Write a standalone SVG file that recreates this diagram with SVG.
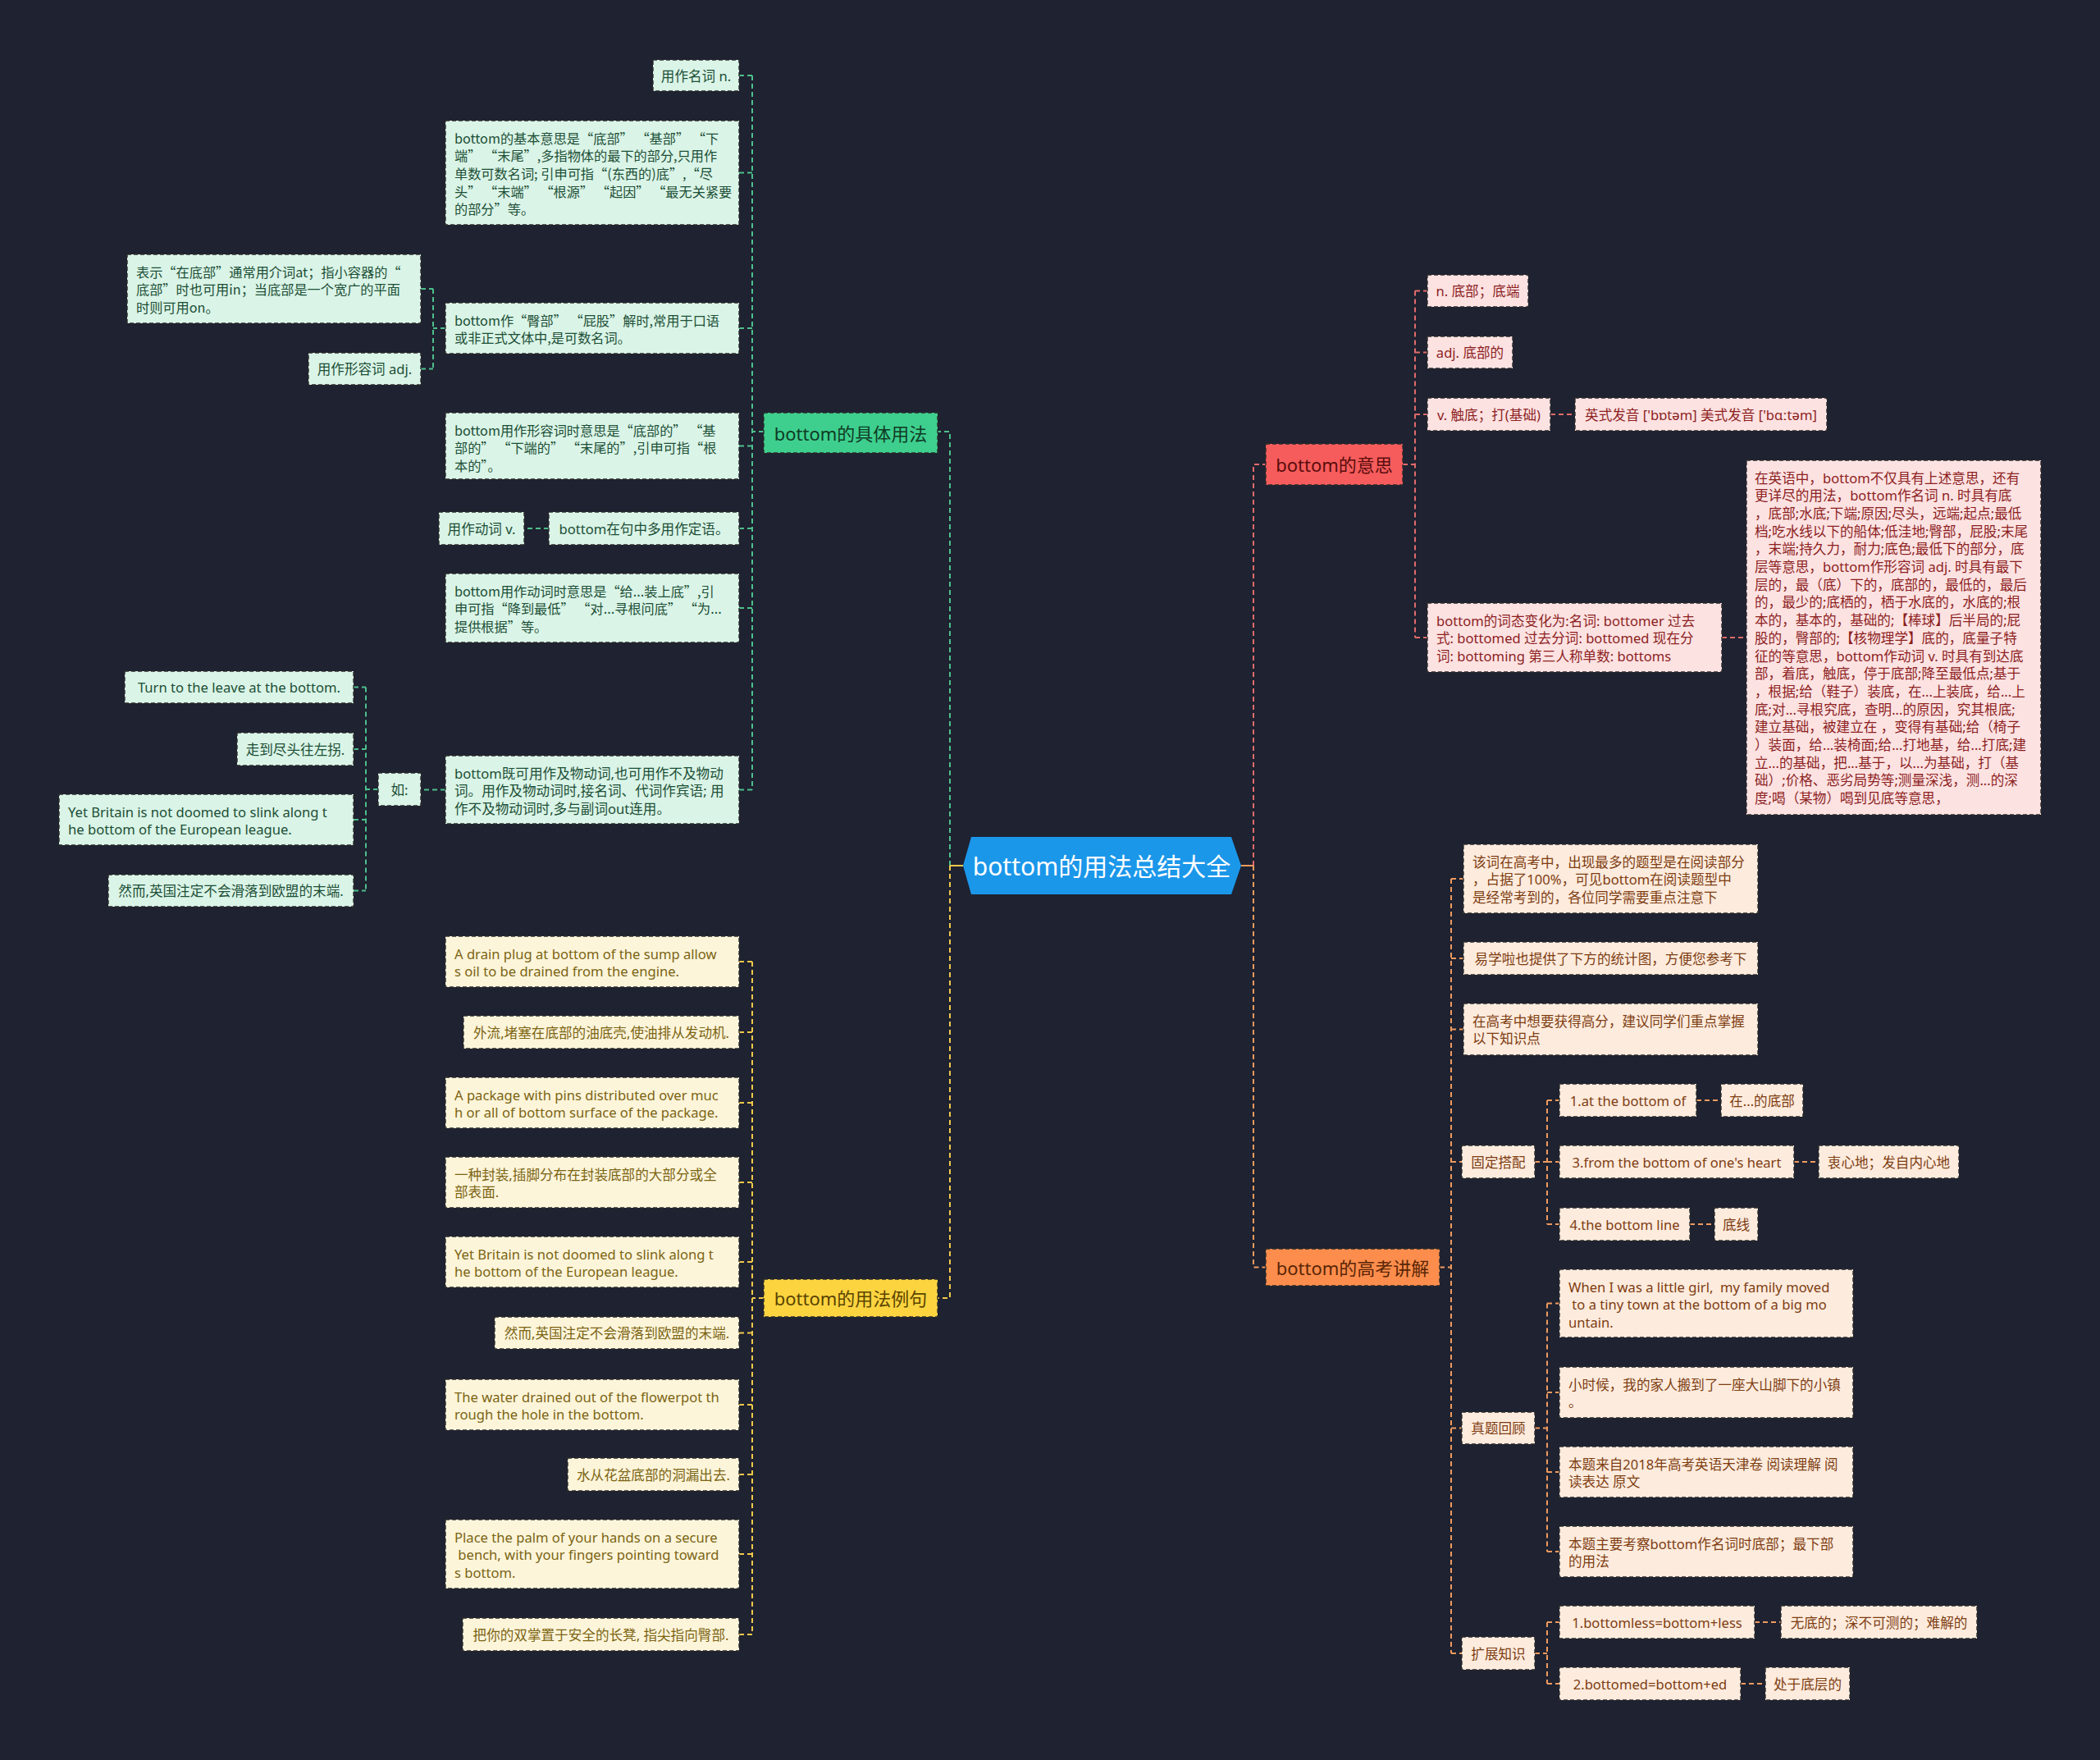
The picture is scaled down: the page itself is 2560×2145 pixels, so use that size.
<svg xmlns="http://www.w3.org/2000/svg" width="2560" height="2145" viewBox="0 0 2560 2145">
<style>
text{font-family:"Noto Sans","Noto Sans CJK SC",sans-serif;font-size:16.6px;dominant-baseline:central}
.q{font-family:"Noto Sans CJK SC","Noto Sans",sans-serif;font-size:16.2px}
.c{text-anchor:middle}
.box{stroke:#2b2b2b;stroke-width:1.4;stroke-dasharray:5 3}
.lg{fill:#daf4e7}.tg{fill:#1c4f36}
.ly{fill:#fdf5da}.ty{fill:#7b6413}
.lr{fill:#fde2e2}.tr{fill:#8c1f1f}
.lo{fill:#fdebdd}.to{fill:#7d3d12}
.cn{fill:none;stroke-width:2;stroke-dasharray:6 4}
.cg{stroke:#4cc08c}.cy{stroke:#f0c94a}.cr{stroke:#e26b6b}.co{stroke:#ef9a5e}
.big{font-size:22px}
</style>
<rect x="0" y="0" width="2560" height="2145" fill="#1f2230"/>
<g id="connectors">
<path class="cn cg" d="M1158,1055 V526 H1143"/>
<path class="cn cy" d="M1158,1055 V1582 H1143"/>
<path d="M1174,1055 H1158" stroke="#f0c94a" stroke-width="2"/>
<path class="cn cr" d="M1528,1055 V566 H1543"/>
<path class="cn co" d="M1528,1055 V1544.5 H1543"/>
<path d="M1513,1055 H1528" stroke="#ef9a5e" stroke-width="2"/>
<path class="cn cg" d="M931,526 H917 M917,92 V962.5 M901,92 H917 M901,210.5 H917 M901,400 H917 M901,543.5 H917 M901,644 H917 M901,741 H917 M901,962.5 H917"/>
<path class="cn cg" d="M543,400 H528 M528,352 V449.5 M513,352 H528 M513,449.5 H528"/>
<path class="cn cg" d="M669,644 H639"/>
<path class="cn cg" d="M543,962.5 H513"/>
<path class="cn cg" d="M461,962 H446 M446,837.5 V1085.5 M431,837.5 H446 M431,913 H446 M431,999 H446 M431,1085.5 H446"/>
<path class="cn cy" d="M931,1582 H917 M917,1172 V1992 M901,1172 H917 M901,1258 H917 M901,1344 H917 M901,1441 H917 M901,1538 H917 M901,1624.5 H917 M901,1712 H917 M901,1797 H917 M901,1894 H917 M901,1992 H917"/>
<path class="cn cr" d="M1710,566 H1725 M1725,354.5 V777 M1725,354.5 H1740 M1725,429.5 H1740 M1725,505 H1740 M1725,777 H1740"/>
<path class="cn cr" d="M1890,505 H1920 M2099,777 H2129"/>
<path class="cn co" d="M1755,1544.5 H1769 M1769,1071 V2015 M1769,1071 H1784 M1769,1168 H1784 M1769,1254.5 H1784 M1769,1416 H1782 M1769,1740.5 H1782 M1769,2015 H1782"/>
<path class="cn co" d="M1871,1416 H1886 M1886,1341 V1492 M1886,1341 H1901 M1886,1416 H1901 M1886,1492 H1901"/>
<path class="cn co" d="M1871,1740.5 H1886 M1886,1588.5 V1891 M1886,1588.5 H1901 M1886,1697 H1901 M1886,1794 H1901 M1886,1891 H1901"/>
<path class="cn co" d="M1871,2015 H1886 M1886,1977 V2052 M1886,1977 H1901 M1886,2052 H1901"/>
<path class="cn co" d="M2068,1341 H2098 M2187,1416 H2217 M2060,1492 H2090 M2139,1977 H2171 M2122,2052 H2152"/>
</g>

<g id="root">
<polygon points="1174,1055 1184,1020 1501,1020 1513,1055 1501,1090 1184,1090" fill="#1b97ea"/>
<text class="c" x="1343" y="1055" style="font-size:30px" fill="#ffffff">bottom的用法总结大全</text>
</g>

<g id="branch-usage">
<rect class="box" x="931" y="503" width="212" height="49" fill="#3ecf8e"/>
<text class="c big" x="1037" y="527.5" fill="#0f3b25">bottom的具体用法</text>
</g>
<g id="branch-examples">
<rect class="box" x="931" y="1559" width="212" height="46" fill="#fcd440"/>
<text class="c big" x="1037" y="1582" fill="#5a4400">bottom的用法例句</text>
</g>
<g id="branch-meaning">
<rect class="box" x="1543" y="541" width="167" height="50" fill="#f65c5c"/>
<text class="c big" x="1626.5" y="566" fill="#5a0d0d">bottom的意思</text>
</g>
<g id="branch-exam">
<rect class="box" x="1543" y="1522" width="212" height="45" fill="#fc8d4c"/>
<text class="c big" x="1649" y="1544.5" fill="#5a2506">bottom的高考讲解</text>
</g>

<!-- green leaves -->
<g id="g1"><rect class="box lg" x="796" y="73" width="105" height="38"/><text class="c tg" x="848.5" y="92">用作名词 n.</text></g>
<g id="g2"><rect class="box lg" x="543" y="147" width="358" height="127"/>
<text class="tg q"><tspan x="554" y="167.5">bottom的基本意思是“底部” “基部” “下</tspan><tspan x="554" y="189.2">端” “末尾”,多指物体的最下的部分,只用作</tspan><tspan x="554" y="210.9">单数可数名词; 引申可指“(东西的)底”,“尽</tspan><tspan x="554" y="232.6">头” “末端” “根源” “起因” “最无关紧要</tspan><tspan x="554" y="254.3">的部分”等。</tspan></text></g>
<g id="g3"><rect class="box lg" x="543" y="369" width="358" height="62"/>
<text class="tg q"><tspan x="554" y="389.5">bottom作“臀部” “屁股”解时,常用于口语</tspan><tspan x="554" y="411.2">或非正式文体中,是可数名词。</tspan></text></g>
<g id="g3a"><rect class="box lg" x="155" y="310" width="358" height="84"/>
<text class="tg q"><tspan x="166" y="330.5">表示“在底部”通常用介词at；指小容器的“</tspan><tspan x="166" y="352.2">底部”时也可用in；当底部是一个宽广的平面</tspan><tspan x="166" y="373.9">时则可用on。</tspan></text></g>
<g id="g3b"><rect class="box lg" x="376" y="430" width="137" height="39"/><text class="c tg" x="444.5" y="449.5">用作形容词 adj.</text></g>
<g id="g4"><rect class="box lg" x="543" y="503" width="358" height="81"/>
<text class="tg q"><tspan x="554" y="523.5">bottom用作形容词时意思是“底部的” “基</tspan><tspan x="554" y="545.2">部的” “下端的” “末尾的”,引申可指“根</tspan><tspan x="554" y="566.9">本的”。</tspan></text></g>
<g id="g5"><rect class="box lg" x="669" y="624" width="232" height="40"/><text class="c tg" x="785" y="644">bottom在句中多用作定语。</text></g>
<g id="g5a"><rect class="box lg" x="535" y="624" width="104" height="40"/><text class="c tg" x="587" y="644">用作动词 v.</text></g>
<g id="g6"><rect class="box lg" x="543" y="699" width="358" height="84"/>
<text class="tg q"><tspan x="554" y="719.5">bottom用作动词时意思是“给...装上底”,引</tspan><tspan x="554" y="741.2">申可指“降到最低” “对...寻根问底” “为...</tspan><tspan x="554" y="762.9">提供根据”等。</tspan></text></g>
<g id="g7"><rect class="box lg" x="543" y="921" width="358" height="83"/>
<text class="tg"><tspan x="554" y="941.5">bottom既可用作及物动词,也可用作不及物动</tspan><tspan x="554" y="963.2">词。用作及物动词时,接名词、代词作宾语; 用</tspan><tspan x="554" y="984.9">作不及物动词时,多与副词out连用。</tspan></text></g>
<g id="g7a"><rect class="box lg" x="461" y="942" width="52" height="40"/><text class="c tg" x="487" y="962">如:</text></g>
<g id="g7b"><rect class="box lg" x="152" y="818" width="279" height="39"/><text class="c tg" x="291.5" y="837.5">Turn to the leave at the bottom.</text></g>
<g id="g7c"><rect class="box lg" x="289" y="893" width="142" height="40"/><text class="c tg" x="360" y="913">走到尽头往左拐.</text></g>
<g id="g7d"><rect class="box lg" x="72" y="968" width="359" height="62"/>
<text class="tg"><tspan x="83" y="988.5">Yet Britain is not doomed to slink along t</tspan><tspan x="83" y="1010.2">he bottom of the European league.</tspan></text></g>
<g id="g7e"><rect class="box lg" x="132" y="1066" width="299" height="39"/><text class="c tg" x="281.5" y="1085.5">然而,英国注定不会滑落到欧盟的末端.</text></g>

<!-- yellow leaves -->
<g id="y1"><rect class="box ly" x="543" y="1141" width="358" height="62"/>
<text class="ty"><tspan x="554" y="1161.5">A drain plug at bottom of the sump allow</tspan><tspan x="554" y="1183.2">s oil to be drained from the engine.</tspan></text></g>
<g id="y2"><rect class="box ly" x="565" y="1238" width="336" height="40"/><text class="c ty" x="733" y="1258">外流,堵塞在底部的油底壳,使油排从发动机.</text></g>
<g id="y3"><rect class="box ly" x="543" y="1313" width="358" height="62"/>
<text class="ty"><tspan x="554" y="1333.5">A package with pins distributed over muc</tspan><tspan x="554" y="1355.2">h or all of bottom surface of the package.</tspan></text></g>
<g id="y4"><rect class="box ly" x="543" y="1410" width="358" height="62"/>
<text class="ty"><tspan x="554" y="1430.5">一种封装,插脚分布在封装底部的大部分或全</tspan><tspan x="554" y="1452.2">部表面.</tspan></text></g>
<g id="y5"><rect class="box ly" x="543" y="1507" width="358" height="62"/>
<text class="ty"><tspan x="554" y="1527.5">Yet Britain is not doomed to slink along t</tspan><tspan x="554" y="1549.2">he bottom of the European league.</tspan></text></g>
<g id="y6"><rect class="box ly" x="603" y="1605" width="298" height="39"/><text class="c ty" x="752" y="1624.5">然而,英国注定不会滑落到欧盟的末端.</text></g>
<g id="y7"><rect class="box ly" x="543" y="1681" width="358" height="62"/>
<text class="ty"><tspan x="554" y="1701.5">The water drained out of the flowerpot th</tspan><tspan x="554" y="1723.2">rough the hole in the bottom.</tspan></text></g>
<g id="y8"><rect class="box ly" x="692" y="1777" width="209" height="40"/><text class="c ty" x="796.5" y="1797">水从花盆底部的洞漏出去.</text></g>
<g id="y9"><rect class="box ly" x="543" y="1852" width="358" height="84"/>
<text class="ty" xml:space="preserve"><tspan x="554" y="1872.5">Place the palm of your hands on a secure</tspan><tspan x="554" y="1894.2"> bench, with your fingers pointing toward</tspan><tspan x="554" y="1915.9">s bottom.</tspan></text></g>
<g id="y10"><rect class="box ly" x="564" y="1972" width="337" height="40"/><text class="c ty" x="732.5" y="1992">把你的双掌置于安全的长凳, 指尖指向臀部.</text></g>

<!-- red leaves -->
<g id="r1"><rect class="box lr" x="1740" y="335" width="123" height="39"/><text class="c tr" x="1801.5" y="354.5">n. 底部；底端</text></g>
<g id="r2"><rect class="box lr" x="1740" y="410" width="104" height="39"/><text class="c tr" x="1792" y="429.5">adj. 底部的</text></g>
<g id="r3"><rect class="box lr" x="1740" y="485" width="150" height="40"/><text class="c tr" x="1815" y="505">v. 触底；打(基础)</text></g>
<g id="r3a"><rect class="box lr" x="1920" y="485" width="307" height="40"/><text class="c tr" x="2073.5" y="505">英式发音 ['bɒtəm] 美式发音 ['bɑːtəm]</text></g>
<g id="r4"><rect class="box lr" x="1740" y="735" width="359" height="84"/>
<text class="tr"><tspan x="1751" y="755.5">bottom的词态变化为:名词: bottomer 过去</tspan><tspan x="1751" y="777.2">式: bottomed 过去分词: bottomed 现在分</tspan><tspan x="1751" y="798.9">词: bottoming 第三人称单数: bottoms</tspan></text></g>
<g id="r4a"><rect class="box lr" x="2129" y="561" width="359" height="432"/>
<text class="tr">
<tspan x="2139" y="581.5">在英语中，bottom不仅具有上述意思，还有</tspan>
<tspan x="2139" y="603.2">更详尽的用法，bottom作名词 n. 时具有底</tspan>
<tspan x="2139" y="624.9">，底部;水底;下端;原因;尽头，远端;起点;最低</tspan>
<tspan x="2139" y="646.6">档;吃水线以下的船体;低洼地;臀部，屁股;末尾</tspan>
<tspan x="2139" y="668.3">，末端;持久力，耐力;底色;最低下的部分，底</tspan>
<tspan x="2139" y="690">层等意思，bottom作形容词 adj. 时具有最下</tspan>
<tspan x="2139" y="711.7">层的，最（底）下的，底部的，最低的，最后</tspan>
<tspan x="2139" y="733.4">的，最少的;底栖的，栖于水底的，水底的;根</tspan>
<tspan x="2139" y="755.1">本的，基本的，基础的;【棒球】后半局的;屁</tspan>
<tspan x="2139" y="776.8">股的，臀部的;【核物理学】底的，底量子特</tspan>
<tspan x="2139" y="798.5">征的等意思，bottom作动词 v. 时具有到达底</tspan>
<tspan x="2139" y="820.2">部，着底，触底，停于底部;降至最低点;基于</tspan>
<tspan x="2139" y="841.9">，根据;给（鞋子）装底，在...上装底，给...上</tspan>
<tspan x="2139" y="863.6">底;对...寻根究底，查明...的原因，究其根底;</tspan>
<tspan x="2139" y="885.3">建立基础，被建立在 ，变得有基础;给（椅子</tspan>
<tspan x="2139" y="907">）装面，给...装椅面;给...打地基，给...打底;建</tspan>
<tspan x="2139" y="928.7">立...的基础，把...基于，以...为基础，打（基</tspan>
<tspan x="2139" y="950.4">础）;价格、恶劣局势等;测量深浅，测...的深</tspan>
<tspan x="2139" y="972.1">度;喝（某物）喝到见底等意思，</tspan>
</text></g>

<!-- orange leaves -->
<g id="o1"><rect class="box lo" x="1784" y="1029" width="359" height="84"/>
<text class="to"><tspan x="1795" y="1049.5">该词在高考中，出现最多的题型是在阅读部分</tspan><tspan x="1795" y="1071.2">，占据了100%，可见bottom在阅读题型中</tspan><tspan x="1795" y="1092.9">是经常考到的，各位同学需要重点注意下</tspan></text></g>
<g id="o2"><rect class="box lo" x="1784" y="1148" width="359" height="40"/><text class="c to" x="1963.5" y="1168">易学啦也提供了下方的统计图，方便您参考下</text></g>
<g id="o3"><rect class="box lo" x="1784" y="1223" width="359" height="63"/>
<text class="to"><tspan x="1795" y="1243.5">在高考中想要获得高分，建议同学们重点掌握</tspan><tspan x="1795" y="1265.2">以下知识点</tspan></text></g>
<g id="o4"><rect class="box lo" x="1782" y="1396" width="89" height="40"/><text class="c to" x="1826.5" y="1416">固定搭配</text></g>
<g id="o4a"><rect class="box lo" x="1901" y="1321" width="167" height="40"/><text class="c to" x="1984.5" y="1341">1.at the bottom of</text></g>
<g id="o4a1"><rect class="box lo" x="2098" y="1321" width="100" height="40"/><text class="c to" x="2148" y="1341">在...的底部</text></g>
<g id="o4b"><rect class="box lo" x="1901" y="1396" width="286" height="40"/><text class="c to" x="2044" y="1416">3.from the bottom of one's heart</text></g>
<g id="o4b1"><rect class="box lo" x="2217" y="1396" width="171" height="40"/><text class="c to" x="2302.5" y="1416">衷心地；发自内心地</text></g>
<g id="o4c"><rect class="box lo" x="1901" y="1472" width="159" height="40"/><text class="c to" x="1980.5" y="1492">4.the bottom line</text></g>
<g id="o4c1"><rect class="box lo" x="2090" y="1472" width="53" height="40"/><text class="c to" x="2116.5" y="1492">底线</text></g>
<g id="o5"><rect class="box lo" x="1782" y="1721" width="89" height="39"/><text class="c to" x="1826.5" y="1740.5">真题回顾</text></g>
<g id="o5a"><rect class="box lo" x="1901" y="1547" width="358" height="83"/>
<text class="to" xml:space="preserve"><tspan x="1912" y="1567.5">When I was a little girl,  my family moved</tspan><tspan x="1912" y="1589.2"> to a tiny town at the bottom of a big mo</tspan><tspan x="1912" y="1610.9">untain.</tspan></text></g>
<g id="o5b"><rect class="box lo" x="1901" y="1666" width="358" height="62"/>
<text class="to"><tspan x="1912" y="1686.5">小时候，我的家人搬到了一座大山脚下的小镇</tspan><tspan x="1912" y="1708.2">。</tspan></text></g>
<g id="o5c"><rect class="box lo" x="1901" y="1763" width="358" height="62"/>
<text class="to"><tspan x="1912" y="1783.5">本题来自2018年高考英语天津卷 阅读理解 阅</tspan><tspan x="1912" y="1805.2">读表达 原文</tspan></text></g>
<g id="o5d"><rect class="box lo" x="1901" y="1860" width="358" height="62"/>
<text class="to"><tspan x="1912" y="1880.5">本题主要考察bottom作名词时底部；最下部</tspan><tspan x="1912" y="1902.2">的用法</tspan></text></g>
<g id="o6"><rect class="box lo" x="1782" y="1995" width="89" height="40"/><text class="c to" x="1826.5" y="2015">扩展知识</text></g>
<g id="o6a"><rect class="box lo" x="1901" y="1957" width="238" height="40"/><text class="c to" x="2020" y="1977">1.bottomless=bottom+less</text></g>
<g id="o6a1"><rect class="box lo" x="2171" y="1957" width="239" height="40"/><text class="c to" x="2290.5" y="1977">无底的；深不可测的；难解的</text></g>
<g id="o6b"><rect class="box lo" x="1901" y="2032" width="221" height="40"/><text class="c to" x="2011.5" y="2052">2.bottomed=bottom+ed</text></g>
<g id="o6b1"><rect class="box lo" x="2152" y="2032" width="103" height="40"/><text class="c to" x="2203.5" y="2052">处于底层的</text></g>
</svg>
